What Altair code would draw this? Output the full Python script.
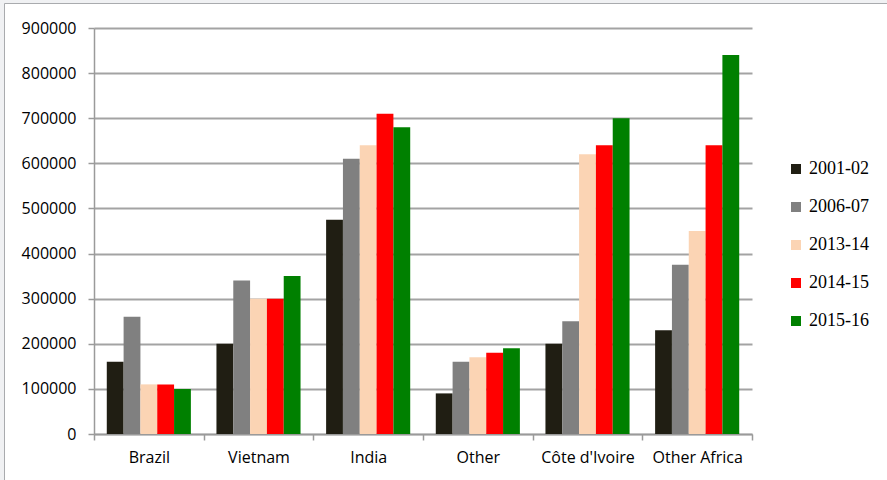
import altair as alt
import pandas as pd

regions = ["Brazil", "Vietnam", "India", "Other", "Côte d'Ivoire", "Other Africa"]
seasons = ["2001-02", "2006-07", "2013-14", "2014-15", "2015-16"]
colors = ["#201E13", "#808080", "#FBD4B4", "#FF0000", "#008000"]

v_2001_02 = [160000, 200000, 475000, 90000, 200000, 230000]
v_2006_07 = [260000, 340000, 610000, 160000, 250000, 375000]
v_2013_14 = [110000, 300000, 640000, 170000, 620000, 450000]
v_2014_15 = [110000, 300000, 710000, 180000, 640000, 640000]
v_2015_16 = [100000, 350000, 680000, 190000, 700000, 840000]

series = [v_2001_02, v_2006_07, v_2013_14, v_2014_15, v_2015_16]
rows = []
for s, vals in zip(seasons, series):
    for r, v in zip(regions, vals):
        rows.append({"region": r, "season": s, "value": v})
df = pd.DataFrame(rows)

one = pd.DataFrame({"a": [0]})
outer = alt.Chart(one).mark_rect(
    fill=None, fillOpacity=0, stroke="#F0F1F3", strokeWidth=8
).encode(
    x=alt.value(-94), x2=alt.value(900), y=alt.value(-28), y2=alt.value(500)
)
frame = alt.Chart(one).mark_rect(
    fill=None, fillOpacity=0, stroke="#A9ABAE", strokeWidth=1
).encode(
    x=alt.value(-89.5), x2=alt.value(900), y=alt.value(-24.5), y2=alt.value(500)
)

bars = alt.Chart(df).mark_bar().encode(
    x=alt.X("region:N", sort=regions, title=None,
            scale=alt.Scale(paddingInner=0, paddingOuter=0),
            axis=alt.Axis(labelAngle=0, tickBand="extent", tickSize=6,
                          labelPadding=9, labelFont="Open Sans", labelFontSize=16,
                          labelColor="#000000", domainColor="#9A9A9A", domainWidth=1.5,
                          tickColor="#9A9A9A", tickWidth=1.5, grid=False)),
    xOffset=alt.XOffset("season:N", sort=seasons,
                        scale=alt.Scale(paddingOuter=0.76, paddingInner=0)),
    y=alt.Y("value:Q", title=None,
            scale=alt.Scale(domain=[0, 900000], nice=False),
            axis=alt.Axis(values=list(range(0, 900001, 100000)), format="d",
                          tickSize=6, labelPadding=12, labelFont="Open Sans",
                          labelFontSize=16, labelColor="#000000",
                          domainColor="#9A9A9A", domainWidth=1.5,
                          tickColor="#9A9A9A", tickWidth=1.5,
                          gridColor="#A3A3A3", gridWidth=2)),
    color=alt.Color("season:N", sort=seasons,
                    scale=alt.Scale(domain=seasons, range=colors),
                    legend=alt.Legend(title=None, orient="none", legendX=693, legendY=132,
                                      symbolType="square", symbolSize=100,
                                      symbolStrokeWidth=0, labelFont="Liberation Serif",
                                      labelFontSize=18, labelColor="#000000",
                                      labelOffset=4, rowPadding=20)),
)

chart = alt.layer(bars, outer, frame).properties(
    width=658, height=406,
    autosize=alt.AutoSizeParams(type="none"),
    padding={"left": 94, "top": 28, "right": 135, "bottom": 46},
    background="white",
).configure_view(stroke=None)

chart.save("out.html", embed_options={"renderer": "svg", "actions": False})
